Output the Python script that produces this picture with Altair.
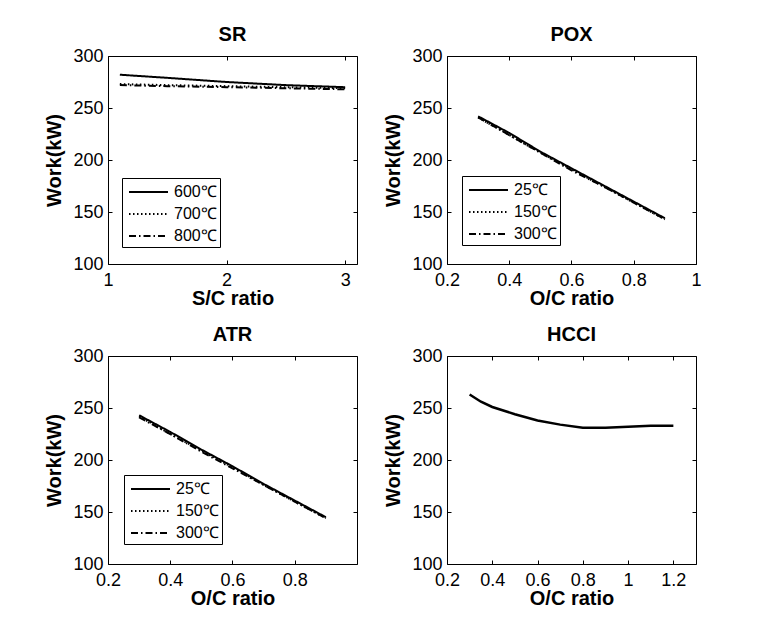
import altair as alt
import pandas as pd

FONT = "Liberation Sans"

# ---------------- data ----------------
sr_x = [1.1, 1.5, 2.0, 2.5, 3.0]
sr_labels = ["600℃", "700℃", "800℃"]
sr_600 = [282, 279, 275, 272, 270]
sr_700 = [273, 272, 271, 270, 269]
sr_800 = [272, 271, 270, 269, 268]

pox_x = [0.3, 0.4, 0.5, 0.6, 0.7, 0.8, 0.9]
pox_labels = ["25℃", "150℃", "300℃"]
pox_25 = [242, 226, 208, 192, 176, 160, 144]
pox_150 = [241, 224, 207, 191, 175, 159, 143]
pox_300 = [241, 224, 207, 190, 175, 159, 143]

atr_x = [0.3, 0.4, 0.5, 0.6, 0.7, 0.8, 0.9]
atr_labels = ["25℃", "150℃", "300℃"]
atr_25 = [243, 227, 210, 194, 177, 161, 145]
atr_150 = [242, 225, 209, 193, 176, 160, 144]
atr_300 = [241, 225, 208, 192, 176, 160, 144]

hcci_x = [0.3, 0.35, 0.4, 0.5, 0.6, 0.7, 0.8, 0.9, 1.0, 1.1, 1.2]
hcci_y = [263, 256, 251, 244, 238, 234, 231, 231, 232, 233, 233]

y_ticks = [100, 150, 200, 250, 300]

W, H = 249, 208


def long_df(x, labels, series):
    rows = []
    for lab, ys in zip(labels, series):
        for xv, yv in zip(x, ys):
            rows.append({"x": xv, "y": yv, "series": lab})
    return pd.DataFrame(rows)


DASHES = [[1, 0], [1.5, 2.5], [7, 3, 1.5, 3]]


def frame_layer(df, xdomain, xticks):
    # invisible layer carrying the inward ticks on top and right (box on)
    return alt.Chart(df).mark_line(opacity=0).encode(
        x=alt.X("x:Q", scale=alt.Scale(domain=xdomain, nice=False, zero=False),
                axis=alt.Axis(orient="top", values=xticks, labels=False, title=None)),
        y=alt.Y("y:Q", scale=alt.Scale(domain=[100, 300], nice=False, zero=False),
                axis=alt.Axis(orient="right", values=y_ticks, labels=False, title=None)),
    )


def panel(df, title, xdomain, xticks, xtitle, labels=None, lx=0, ly=0, sw=2):
    enc = dict(
        x=alt.X("x:Q", scale=alt.Scale(domain=xdomain, nice=False, zero=False),
                axis=alt.Axis(orient="bottom", values=xticks, format="~g", title=xtitle)),
        y=alt.Y("y:Q", scale=alt.Scale(domain=[100, 300], nice=False, zero=False),
                axis=alt.Axis(orient="left", values=y_ticks, title="Work(kW)")),
    )
    if labels is not None:
        enc["strokeDash"] = alt.StrokeDash(
            "series:N",
            sort=labels,
            scale=alt.Scale(domain=labels, range=DASHES),
            legend=alt.Legend(title=None, orient="none", legendX=lx, legendY=ly),
        )
    lines = alt.Chart(df).mark_line(color="black", strokeWidth=sw, clip=True).encode(**enc)
    return (
        alt.layer(lines, frame_layer(df, xdomain, xticks))
        .resolve_axis(x="independent", y="independent")
        .properties(width=W, height=H, title=title)
    )


sr_df = long_df(sr_x, sr_labels, [sr_600, sr_700, sr_800])
pox_df = long_df(pox_x, pox_labels, [pox_25, pox_150, pox_300])
atr_df = long_df(atr_x, atr_labels, [atr_25, atr_150, atr_300])
hcci_df = pd.DataFrame({"x": hcci_x, "y": hcci_y})

p_sr = panel(sr_df, "SR", [1, 3.1], [1, 2, 3], "S/C ratio", sr_labels, 14, 122)
p_pox = panel(pox_df, "POX", [0.2, 1.0], [0.2, 0.4, 0.6, 0.8, 1.0], "O/C ratio", pox_labels, 15, 120)
p_atr = panel(atr_df, "ATR", [0.2, 1.0], [0.2, 0.4, 0.6, 0.8], "O/C ratio", atr_labels, 16, 119)
p_hcci = panel(hcci_df, "HCCI", [0.2, 1.3], [0.2, 0.4, 0.6, 0.8, 1.0, 1.2], "O/C ratio", None, sw=2.5)

chart = (
    alt.concat(p_sr, p_pox, p_atr, p_hcci, columns=2,
               spacing={"row": 92, "column": 90}, bounds="flush")
    .resolve_scale(strokeDash="independent")
    .properties(padding={"left": 36, "top": 16, "right": 5, "bottom": 5}, background="white")
    .configure_view(stroke="black", strokeWidth=1)
    .configure_axis(
        domain=False,
        grid=False,
        ticks=True,
        tickColor="black",
        tickSize=4,
        tickWidth=1,
        offset=-4,
        labelFont=FONT,
        labelFontSize=18,
        labelColor="black",
        labelFlush=False,
        labelOverlap=False,
        titleFont=FONT,
        titleFontSize=20,
        titleFontWeight="bold",
        titleColor="black",
    )
    .configure_axisBottom(labelPadding=7, titlePadding=-1)
    .configure_axisLeft(labelPadding=5, titlePadding=8)
    .configure_title(font=FONT, fontSize=20, fontWeight="bold", color="black", offset=2)
    .configure_legend(
        strokeColor="black",
        fillColor="white",
        padding=3,
        labelFont=FONT,
        labelFontSize=16,
        labelColor="black",
        labelOffset=27,
        symbolType="M-0.7,0H3.2",
        symbolSize=400,
        symbolStrokeWidth=2,
        symbolStrokeColor="black",
        rowPadding=3,
        cornerRadius=0,
    )
)

chart.save("out.html", embed_options={"renderer": "svg", "actions": False})
